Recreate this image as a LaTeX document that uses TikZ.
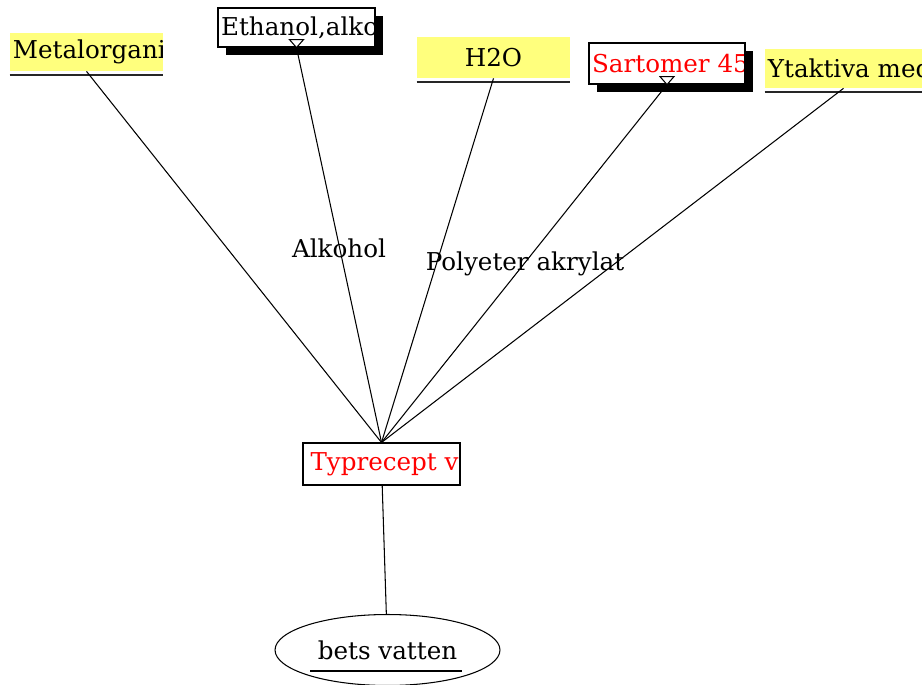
\documentclass[tikz,border=0pt]{standalone}
\usepackage{fontspec}
\setmainfont{DejaVu Serif}
\usetikzlibrary{positioning,shapes.geometric,shadows}
\definecolor{NoteYellow}{RGB}{255,255,125}
\tikzset{txt/.style={font=\fontsize{14}{16}\selectfont},
	cuttext/.style={path picture={\node[txt,anchor=west,inner sep=0pt] (cutlabel) at ([xshift=0.05cm]path picture bounding box.west) {#1};}},
	note/.style={fill=NoteYellow,inner sep=0pt},
	memo/.style={draw,line width=0.7pt,fill=white,inner sep=0pt,
		drop shadow={shadow xshift=0.16cm,shadow yshift=-0.16cm,opacity=1,fill=black}},
	recipe/.style={draw,line width=0.6pt,fill=white,inner sep=0pt},
	uline/.style={line width=1.1pt,black!85},
	link/.style={line width=0.6pt}}

\begin{document}
\begin{tikzpicture}[x=0.02cm,y=-0.02cm]
	\useasboundingbox (0,0) rectangle (922,685);
	% ingredients
	\node[note,minimum width=3.06cm,minimum height=0.76cm,cuttext={Metalorgani}] (metal) at (86.5,52) {};
	\node[memo,minimum width=3.14cm,minimum height=0.78cm,cuttext={Ethanol,alko}] (eth) at (296.5,27.5) {};
	\node[note,txt,minimum width=3.06cm,minimum height=0.82cm] (water) at (493.5,57.5) {H2O};
	\node[memo,minimum width=3.12cm,minimum height=0.82cm,cuttext={\color{red}Sartomer 454}] (sart) at (667,63.5) {};
	\node[note,minimum width=3.14cm,minimum height=0.78cm,cuttext={Ytaktiva med}] (tensid) at (843.5,68.5) {};
	\foreach \n in {metal,water,tensid}
		\draw[uline] ([yshift=-0.07cm]\n.south west) -- ([yshift=-0.07cm]\n.south east);
	\foreach \n in {eth,sart}
		\draw[line width=0.6pt,fill=white] ([shift={(-0.14cm,0.16cm)}]\n.south) -- ([shift={(0.14cm,0.16cm)}]\n.south) -- (\n.south) -- cycle;
	% recipe and result
	\node[recipe,minimum width=3.14cm,minimum height=0.84cm,cuttext={\color{red}Typrecept v}] (typ) at (381.5,464) {};
	\node[draw,ellipse,line width=0.6pt,txt,minimum width=4.5cm,minimum height=1.42cm,inner sep=0pt] (bets) at (387.5,650) {bets vatten};
	\draw[line width=0.8pt] ([shift={(-1.55cm,-0.42cm)}]bets.center) -- ([shift={(1.49cm,-0.42cm)}]bets.center);
	\foreach \n in {metal,eth,water,sart,tensid}
		\draw[link] (\n.south) -- (typ.north);
	\draw[link] (typ) -- (bets);
	% line labels
	\node[txt] (alk) at (339,248) {Alkohol};
	\node[txt] (poly) at (525,264) {Polyeter akrylat};
\end{tikzpicture}
\end{document}
